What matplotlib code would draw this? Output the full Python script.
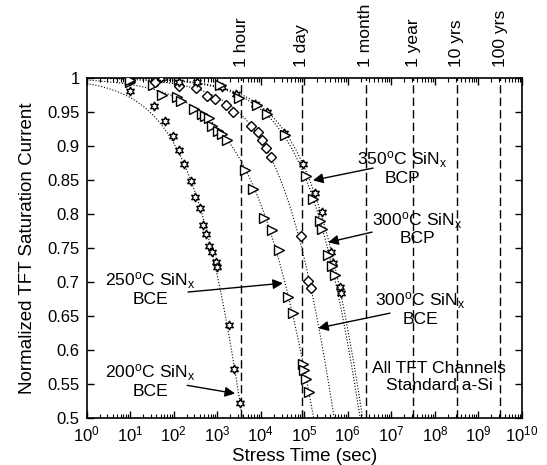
import numpy as np
import matplotlib
matplotlib.use("Agg")
import matplotlib.pyplot as plt
from matplotlib.ticker import LogLocator, FixedLocator, FormatStrFormatter

plt.rcParams['font.family'] = ['Liberation Sans', 'DejaVu Sans']
plt.rcParams['mathtext.fontset'] = 'custom'
plt.rcParams['mathtext.rm'] = 'Liberation Sans'
plt.rcParams['mathtext.it'] = 'Liberation Sans:italic'
plt.rcParams['mathtext.bf'] = 'Liberation Sans:bold'
plt.rcParams['font.size'] = 12

# stress time (s) and normalized saturation current
t_200_bce = [10, 35, 63, 95, 130, 175, 245, 316, 400, 480, 540, 630, 740, 930, 980,
             1860, 2450, 3300]
i_200_bce = [0.980, 0.958, 0.936, 0.914, 0.894, 0.873, 0.848, 0.824, 0.809, 0.783,
             0.770, 0.752, 0.744, 0.729, 0.722, 0.636, 0.572, 0.522]

t_250_bce = [10, 34, 55, 120, 150, 300, 440, 520, 630, 760, 1020, 1290, 1660, 4300,
             6700, 12000, 18600, 26900, 42700, 55000, 93000, 100000, 110000, 126000]
i_250_bce = [0.994, 0.989, 0.975, 0.971, 0.966, 0.954, 0.947, 0.944, 0.940, 0.929,
             0.922, 0.917, 0.908, 0.864, 0.836, 0.793, 0.776, 0.747, 0.677, 0.654,
             0.580, 0.570, 0.558, 0.538]

t_300_bce = [10, 37, 130, 320, 590, 890, 1580, 2340, 5900, 8700, 10500, 12900, 17400,
             85000, 123000, 141000]
i_300_bce = [0.997, 0.993, 0.988, 0.984, 0.973, 0.969, 0.959, 0.950, 0.929, 0.920,
             0.908, 0.897, 0.884, 0.767, 0.701, 0.691]

t_350_bcp = [10, 52, 130, 350, 1260, 2700, 7400, 13800, 34700, 95500, 178000, 251000,
             417000, 468000, 646000, 692000]
i_350_bcp = [0.998, 0.999, 0.993, 0.993, 0.986, 0.976, 0.961, 0.949, 0.919, 0.873,
             0.830, 0.803, 0.744, 0.727, 0.692, 0.683]

t_300_bcp = [10, 1170, 3200, 8100, 13800, 36300, 112000, 162000, 229000, 251000,
             355000, 427000, 513000]
i_300_bcp = [0.997, 0.989, 0.970, 0.959, 0.947, 0.915, 0.855, 0.821, 0.789, 0.778,
             0.739, 0.723, 0.710]

time_marks = [3600, 86400, 2.592e6, 3.156e7, 3.156e8, 3.156e9]
time_names = ['1 hour', '1 day', '1 month', '1 year', '10 yrs', '100 yrs']

series = [
    (t_200_bce, i_200_bce, (6, 1, 0), 6.5),
    (t_250_bce, i_250_bce, '>', 7),
    (t_300_bce, i_300_bce, 'D', 4.8),
    (t_350_bcp, i_350_bcp, (6, 1, 0), 6.5),
    (t_300_bcp, i_300_bcp, '>', 7),
]


def stretched_exp_fit(t, v):
    # ln(-ln I) = beta*ln t - beta*ln tau
    t = np.asarray(t, float)
    v = np.asarray(v, float)
    y = np.log(-np.log(v))
    beta, c = np.polyfit(np.log(t), y, 1, w=-np.log(v))
    return beta, np.exp(-c / beta)


fig = plt.figure(figsize=(5.47, 4.65), dpi=100)
ax = fig.add_axes([0.1585, 0.101, 0.7955, 0.7323])

tt = np.logspace(0, 10, 600)
for t, v, mk, ms in series:
    beta, tau = stretched_exp_fit(t, v)
    ax.plot(tt, np.exp(-(tt / tau) ** beta), ':', color='k', lw=0.8, zorder=2)
for t, v, mk, ms in series:
    ax.plot(t, v, linestyle='none', marker=mk, ms=ms, mfc='white', mec='k',
            mew=1.0, zorder=3)

for tm, name in zip(time_marks, time_names):
    ax.axvline(tm, color='k', lw=1.0, ls=(0, (6, 3)), zorder=1)
    ax.text(tm, 1.03, name, rotation=90, ha='center', va='bottom', fontsize=12.6,
            transform=ax.get_xaxis_transform(), clip_on=False)

ax.set_xscale('log')
ax.set_xlim(1, 1e10)
ax.set_ylim(0.5, 1.0)
ax.xaxis.set_major_locator(LogLocator(base=10, numticks=12))
ax.xaxis.set_minor_locator(LogLocator(base=10, subs=np.arange(2, 10), numticks=12))
ax.yaxis.set_major_locator(FixedLocator(np.arange(0.5, 1.001, 0.05)))
ax.yaxis.set_major_formatter(FormatStrFormatter('%g'))
ax.tick_params(which='both', direction='in', top=True, right=True, labelsize=12)
ax.tick_params(which='major', length=5, width=1, pad=5)
ax.tick_params(which='minor', length=3, width=0.8)
for s in ax.spines.values():
    s.set_linewidth(1.2)

ax.set_xlabel('Stress Time (sec)', fontsize=13.5, labelpad=2)
ax.set_ylabel('Normalized TFT Saturation Current', fontsize=13.5, labelpad=8)

sup = r'$^{\mathrm{o}}$'
sub = r'$_{\mathrm{x}}$'
labels = [
    ('350' + sup + 'C SiN' + sub + '\nBCP', (10 ** 7.25, 0.868), (10 ** 6.58, 0.867), (10 ** 5.20, 0.849)),
    ('300' + sup + 'C SiN' + sub + '\nBCP', (10 ** 7.59, 0.779), (10 ** 6.56, 0.773), (10 ** 5.55, 0.758)),
    ('250' + sup + 'C SiN' + sub + '\nBCE', (10 ** 1.46, 0.690), (10 ** 2.33, 0.685), (10 ** 4.51, 0.698)),
    ('300' + sup + 'C SiN' + sub + '\nBCE', (10 ** 7.66, 0.661), (10 ** 6.97, 0.654), (10 ** 5.32, 0.632)),
    ('200' + sup + 'C SiN' + sub + '\nBCE', (10 ** 1.46, 0.555), (10 ** 2.31, 0.548), (10 ** 3.41, 0.536)),
]
for txt, pos, tail, tip in labels:
    ax.text(pos[0], pos[1], txt, ha='center', va='center', multialignment='center',
            fontsize=12.6, linespacing=1.05, zorder=4)
    ax.annotate('', xy=tip, xytext=tail,
                arrowprops=dict(arrowstyle='-|>', color='k', lw=1.0,
                                mutation_scale=15, shrinkA=0, shrinkB=0), zorder=4)

ax.text(10 ** 8.1, 0.560, 'All TFT Channels\nStandard a-Si', ha='center', va='center',
        multialignment='center', fontsize=12.6, linespacing=1.15, zorder=4)

fig.savefig('out.png', dpi=100)
